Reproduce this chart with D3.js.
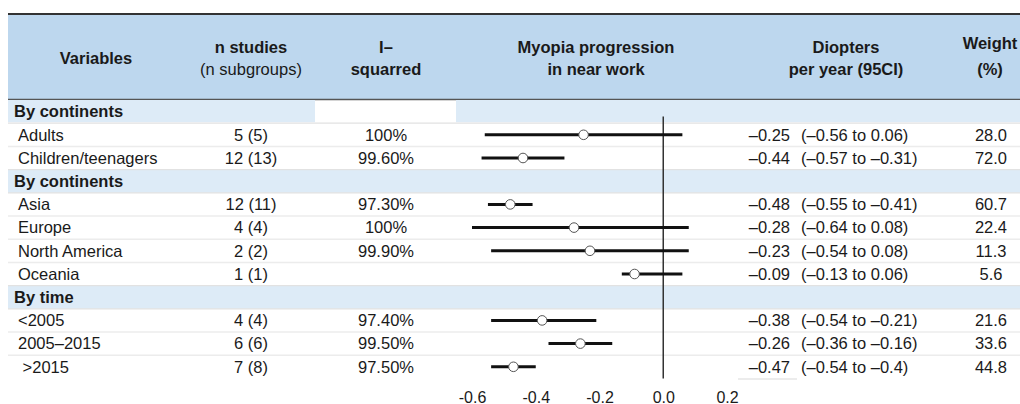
<!DOCTYPE html>
<html><head><meta charset="utf-8">
<script src="https://cdn.jsdelivr.net/npm/d3@7"></script>
<style>
html,body{margin:0;padding:0;background:#fff;}
text{font-family:"Liberation Sans",Arial,Helvetica,sans-serif;fill:#1a1a1a;}
</style></head>
<body><svg id="chart" width="1020" height="404"></svg>
<script>
const labels = ["By continents","Adults","Children/teenagers","By continents","Asia","Europe","North America","Oceania","By time","<2005","2005–2015"," >2015"];
const isSection = [true,false,false,true,false,false,false,false,true,false,false,false];
const nStudies = ["","5 (5)","12 (13)","","12 (11)","4 (4)","2 (2)","1 (1)","","4 (4)","6 (6)","7 (8)"];
const iSquared = ["","100%","99.60%","","97.30%","100%","99.90%","","","97.40%","99.50%","97.50%"];
const estimate = [null,-0.25,-0.44,null,-0.48,-0.28,-0.23,-0.09,null,-0.38,-0.26,-0.47];
const lower = [null,-0.56,-0.57,null,-0.55,-0.64,-0.54,-0.13,null,-0.54,-0.36,-0.54];
const upper = [null,0.06,-0.31,null,-0.41,0.08,0.08,0.06,null,-0.21,-0.16,-0.40];
const estText = ["","–0.25","–0.44","","–0.48","–0.28","–0.23","–0.09","","–0.38","–0.26","–0.47"];
const ciText = ["","(–0.56 to 0.06)","(–0.57 to –0.31)","","(–0.55 to –0.41)","(–0.64 to 0.08)","(–0.54 to 0.08)","(–0.13 to 0.06)","","(–0.54 to –0.21)","(–0.36 to –0.16)","(–0.54 to –0.4)"];
const weight = ["","28.0","72.0","","60.7","22.4","11.3","5.6","","21.6","33.6","44.8"];
const tickValues = [-0.6,-0.4,-0.2,0.0,0.2];
const tickLabels = ["-0.6","-0.4","-0.2","0.0","0.2"];

const svg = d3.select("#chart");
const W = 1020, left = 8;
const top0 = 100, rowH = 23.2;
const x = d3.scaleLinear().domain([-0.6,0.2]).range([472,727]).clamp(true);
const y = d3.scaleLinear().domain([0,labels.length]).range([top0, top0 + rowH*labels.length]);
const FS = 16.5;

// header band
svg.append("rect").attr("x",left).attr("y",14).attr("width",W-left).attr("height",top0-14).attr("fill","#bdd7ee");
svg.append("line").attr("x1",left).attr("x2",W).attr("y1",14).attr("y2",14).attr("stroke","#333").attr("stroke-width",2);
svg.append("line").attr("x1",left).attr("x2",W).attr("y1",top0-0.5).attr("y2",top0-0.5).attr("stroke","#555").attr("stroke-width",1.5);

// section bands
labels.forEach((l,i)=>{
  if(!isSection[i]) return;
  const y0 = y(i), h = rowH;
  if(i===0){
    svg.append("rect").attr("x",left).attr("y",y0).attr("width",315-left).attr("height",h-1).attr("fill","#ddebf7");
    svg.append("rect").attr("x",456).attr("y",y0).attr("width",W-456).attr("height",h-1).attr("fill","#ddebf7");
  } else {
    svg.append("rect").attr("x",left).attr("y",y0).attr("width",W-left).attr("height",h).attr("fill","#ddebf7");
  }
});

// row separators
for(let i=1;i<labels.length;i++){
  if(isSection[i] || isSection[i-1]) {
    svg.append("line").attr("x1",left).attr("x2",W).attr("y1",y(i)).attr("y2",y(i)).attr("stroke","#e2e2e2").attr("stroke-width",1.2);
  } else {
    svg.append("line").attr("x1",left).attr("x2",W).attr("y1",y(i)).attr("y2",y(i)).attr("stroke","#ececec").attr("stroke-width",1.5);
  }
}
svg.append("line").attr("x1",738).attr("x2",797).attr("y1",y(labels.length)+0.5).attr("y2",y(labels.length)+0.5).attr("stroke","#e6e6e6").attr("stroke-width",1.5);

// header text
function htext(tx,ty,s,bold,anchor){
  svg.append("text").attr("x",tx).attr("y",ty).attr("text-anchor",anchor||"middle")
    .attr("font-size",FS).attr("font-weight",bold?"bold":"normal").text(s);
}
htext(96,63.5,"Variables",true);
htext(251,52.5,"n studies",true);
htext(251,74.5,"(n subgroups)",false);
htext(386,52.5,"I–",true);
htext(386,74.5,"squarred",true);
htext(596,52.5,"Myopia progression",true);
htext(596,74.5,"in near work",true);
htext(846,52.5,"Diopters",true);
htext(846,74.5,"per year (95CI)",true);
htext(990,49,"Weight",true);
htext(990,74.5,"(%)",true);

// zero line
svg.append("line").attr("x1",x(0)).attr("x2",x(0)).attr("y1",116.5).attr("y2",y(labels.length)).attr("stroke","#333").attr("stroke-width",1.5);

// rows
const rows = svg.append("g");
labels.forEach((l,i)=>{
  const cy = y(i) + rowH/2;
  const by = cy + 5.8;
  if(isSection[i]){
    rows.append("text").attr("x",14).attr("y",by).attr("font-size",FS).attr("font-weight","bold").text(l);
    return;
  }
  rows.append("text").attr("x",18).attr("y",by).attr("font-size",FS).style("white-space","pre").text(l);
  rows.append("text").attr("x",251).attr("y",by).attr("text-anchor","middle").attr("font-size",FS).text(nStudies[i]);
  rows.append("text").attr("x",386).attr("y",by).attr("text-anchor","middle").attr("font-size",FS).text(iSquared[i]);
  rows.append("text").attr("x",790).attr("y",by).attr("text-anchor","end").attr("font-size",FS).text(estText[i]);
  rows.append("text").attr("x",801).attr("y",by).attr("font-size",FS).text(ciText[i]);
  rows.append("text").attr("x",991).attr("y",by).attr("text-anchor","middle").attr("font-size",FS).text(weight[i]);
  if(estimate[i]!==null){
    rows.append("line").attr("x1",x(lower[i])).attr("x2",x(upper[i])).attr("y1",cy).attr("y2",cy)
      .attr("stroke","#111").attr("stroke-width",3);
    rows.append("circle").attr("cx",x(estimate[i])).attr("cy",cy).attr("r",4.8)
      .attr("fill","#fff").attr("stroke","#555").attr("stroke-width",1);
  }
});

// axis tick labels
const axis = d3.axisBottom(x).tickValues(tickValues).tickFormat((d,i)=>tickLabels[i]).tickSize(0).tickPadding(0);
const ga = svg.append("g").attr("transform","translate(0,390)").call(axis);
ga.select(".domain").remove();
ga.selectAll("text").attr("font-size",16).attr("font-family","Liberation Sans, Arial, sans-serif").attr("fill","#222").attr("dy","0").attr("y",13);
</script></body></html>
